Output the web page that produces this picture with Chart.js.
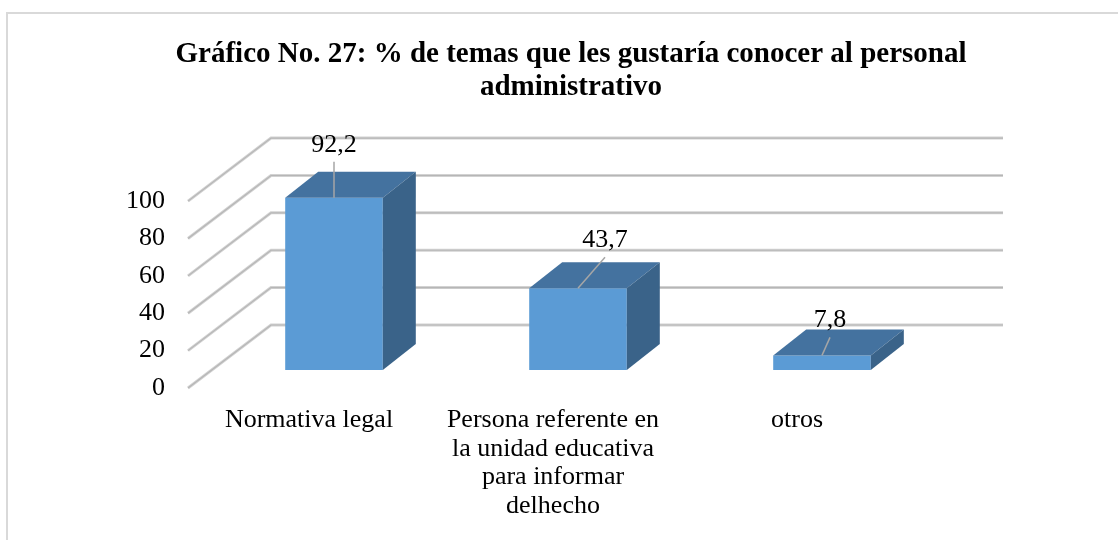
<!DOCTYPE html>
<html>
<head>
<meta charset="utf-8">
<script src="https://cdn.jsdelivr.net/npm/chart.js@4.4.1/dist/chart.umd.min.js"></script>
<style>
  html, body { margin: 0; padding: 0; background: #fff; }
  #wrap { width: 1118px; height: 540px; position: relative; }
</style>
</head>
<body>
<div id="wrap"><canvas id="chart"></canvas></div>
<script>
// datos del gráfico
const titleLines = ['Gráfico No. 27: % de temas que les gustaría conocer al personal', 'administrativo'];
const categories = [
  ['Normativa legal'],
  ['Persona referente en', 'la unidad educativa', 'para informar', 'delhecho'],
  ['otros']
];
const values = [92.2, 43.7, 7.8];
const valueLabels = ['92,2', '43,7', '7,8'];
const yMin = 0;
const yMax = 100;
const yStep = 20;

const FONT = "'Liberation Serif', 'Times New Roman', serif";
Chart.defaults.font.family = FONT;
Chart.defaults.color = '#000';

// desplazamientos de la perspectiva 3D (pixeles)
const barDepth = { dx: 33, dy: -26 };
const wallBack = { dx: 59, dy: -45 };
const wallFront = { dx: -24, dy: 18 };
// posicion de cada etiqueta respecto al borde superior de la barra
const labelShift = [{ dx: 0, dy: -53 }, { dx: 27, dy: -48 }, { dx: 8, dy: -35 }];

function poly(ctx, pts, color) {
  ctx.beginPath();
  ctx.moveTo(pts[0][0], pts[0][1]);
  for (let i = 1; i < pts.length; i++) ctx.lineTo(pts[i][0], pts[i][1]);
  ctx.closePath();
  ctx.fillStyle = color;
  ctx.fill();
}

const box3d = {
  id: 'box3d',
  beforeDraw(chart) {
    const ctx = chart.ctx;
    ctx.save();
    ctx.strokeStyle = '#d9d9d9';
    ctx.lineWidth = 2;
    ctx.strokeRect(7, 13, 3000, 3000);
    ctx.restore();
  },
  beforeDatasetsDraw(chart) {
    const { ctx, chartArea: a } = chart;
    const y = chart.scales.y;
    ctx.save();
    // lineas de la pared: borde claro y centro mas oscuro
    [[3, '#d2d2d2'], [1.2, '#b6b6b6']].forEach(([w, c]) => {
      ctx.strokeStyle = c;
      ctx.lineWidth = w;
      y.ticks.forEach(t => {
        const py = y.getPixelForValue(t.value);
        ctx.beginPath();
        ctx.moveTo(a.left + wallFront.dx, py + wallFront.dy);
        ctx.lineTo(a.left + wallBack.dx, py + wallBack.dy);
        ctx.lineTo(a.right + wallBack.dx, py + wallBack.dy);
        ctx.stroke();
      });
    });
    ctx.restore();
  },
  afterDatasetsDraw(chart) {
    const ctx = chart.ctx;
    const meta = chart.getDatasetMeta(0);
    ctx.save();
    meta.data.forEach((bar, i) => {
      const p = bar.getProps(['x', 'y', 'base', 'width'], true);
      const l = p.x - p.width / 2, r = p.x + p.width / 2, t = p.y, b = p.base;
      const dx = barDepth.dx, dy = barDepth.dy;
      poly(ctx, [[l, t], [r, t], [r + dx, t + dy], [l + dx, t + dy]], '#44729f');
      poly(ctx, [[r, t], [r + dx, t + dy], [r + dx, b + dy], [r, b]], '#3a6389');

      const lx = p.x + labelShift[i].dx, ly = t + labelShift[i].dy;
      ctx.strokeStyle = '#a6a6a6';
      ctx.lineWidth = 1.5;
      ctx.beginPath();
      ctx.moveTo(lx, ly + 17);
      ctx.lineTo(p.x, t);
      ctx.stroke();

      ctx.fillStyle = '#000';
      ctx.font = '26px ' + FONT;
      ctx.textAlign = 'center';
      ctx.textBaseline = 'middle';
      ctx.fillText(valueLabels[i], lx, ly);
    });
    ctx.restore();
  }
};

new Chart(document.getElementById('chart'), {
  type: 'bar',
  data: {
    labels: categories,
    datasets: [{
      data: values,
      backgroundColor: '#5b9bd5',
      borderWidth: 0,
      barPercentage: 0.4,
      categoryPercentage: 1.0
    }]
  },
  options: {
    responsive: true,
    maintainAspectRatio: false,
    animation: false,
    layout: { padding: { top: 0, left: 120, right: 96, bottom: 0 } },
    plugins: {
      legend: { display: false },
      tooltip: { enabled: false },
      title: {
        display: true,
        text: titleLines,
        color: '#000',
        font: { family: FONT, size: 29, weight: 'bold', lineHeight: 1.14 },
        padding: { top: 38, bottom: 79 }
      }
    },
    scales: {
      x: {
        grid: { display: false, drawTicks: false },
        border: { display: false },
        ticks: {
          color: '#000',
          font: { family: FONT, size: 26, lineHeight: 1.1 },
          padding: 36,
          labelOffset: -25,
          maxRotation: 0,
          minRotation: 0,
          autoSkip: false
        },
        afterFit(s) { s.height = 170; }
      },
      y: {
        min: yMin,
        max: yMax,
        grid: { display: false, drawTicks: false },
        border: { display: false },
        ticks: {
          stepSize: yStep,
          color: '#000',
          font: { family: FONT, size: 26 },
          padding: 47,
          labelOffset: 18
        },
        afterFit(s) { s.width = 92; }
      },
      // eje vacio a la derecha: solo reserva espacio para el fondo 3D
      yRight: {
        position: 'right',
        min: yMin,
        max: yMax,
        grid: { display: false, drawTicks: false },
        border: { display: false },
        ticks: { display: false },
        afterFit(s) { s.width = 78; }
      }
    }
  },
  plugins: [box3d]
});
</script>
</body>
</html>
